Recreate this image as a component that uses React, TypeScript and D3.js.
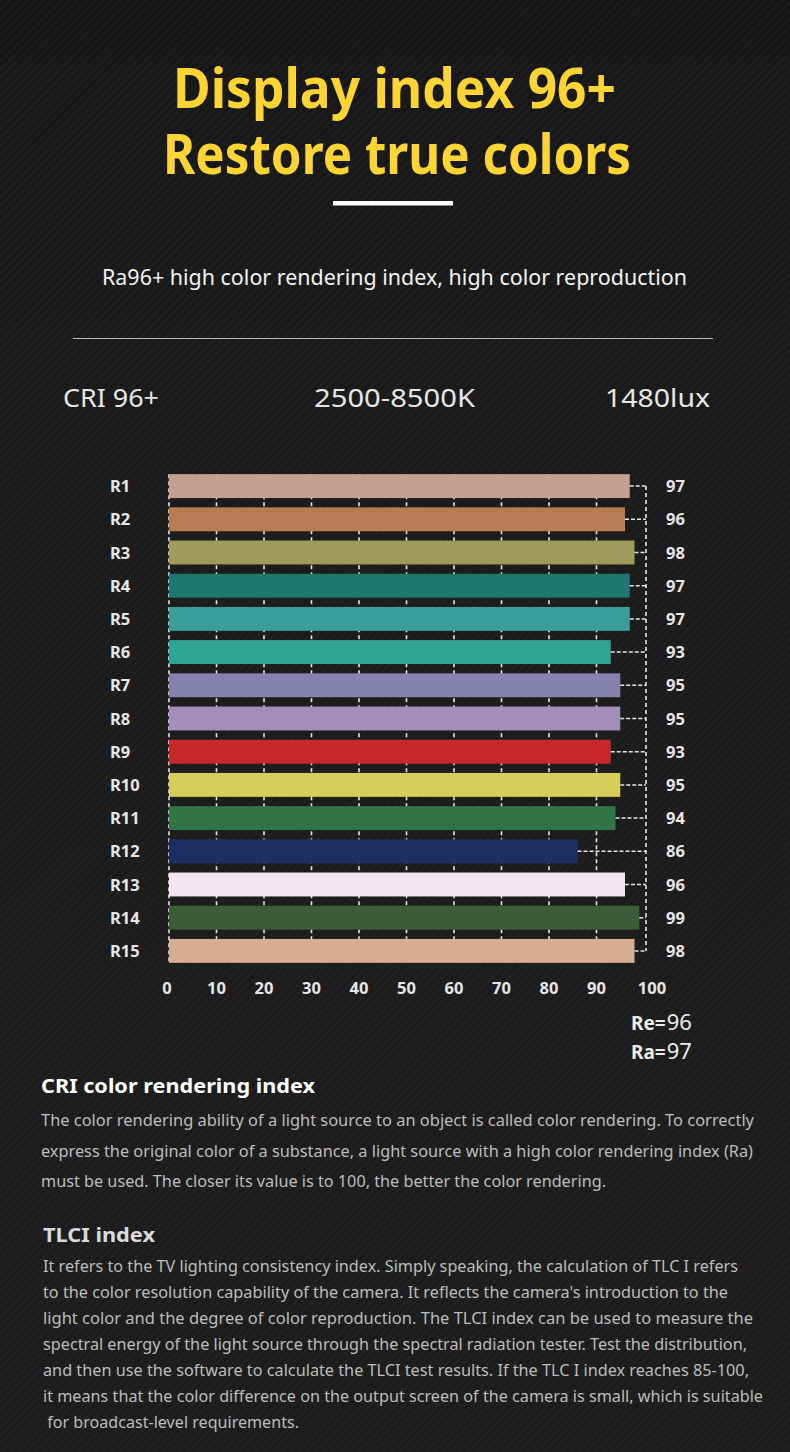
import React from 'react';
import * as d3 from 'd3';

const categories = ['R1', 'R2', 'R3', 'R4', 'R5', 'R6', 'R7', 'R8', 'R9', 'R10', 'R11', 'R12', 'R13', 'R14', 'R15'];
const values = [97, 96, 98, 97, 97, 93, 95, 95, 93, 95, 94, 86, 96, 99, 98];
const barColors = [
  '#c4a093', '#b87c55', '#a09a5c', '#1f7870', '#3a9d9a',
  '#30a492', '#8582ad', '#a48db8', '#c8282c', '#d6cd5a',
  '#317446', '#1f2e65', '#f2e5f0', '#3b5e38', '#d9ad92',
];
const xTicks = [0, 10, 20, 30, 40, 50, 60, 70, 80, 90, 100];
const gridTicks = [0, 10, 20, 30, 40, 50, 60, 70, 80, 90];

const titleLines = ['Display index 96+', 'Restore true colors'];
const subtitle = 'Ra96+ high color rendering index, high color reproduction';
const specs = ['CRI 96+', '2500-8500K', '1480lux'];
const summaryKeys = ['Re=', 'Ra='];
const summaryValues = ['96', '97'];

const criTitle = 'CRI color rendering index';
const criLines = [
  'The color rendering ability of a light source to an object is called color rendering. To correctly',
  'express the original color of a substance, a light source with a high color rendering index (Ra)',
  'must be used. The closer its value is to 100, the better the color rendering.',
];
const tlciTitle = 'TLCI index';
const tlciLines = [
  'It refers to the TV lighting consistency index. Simply speaking, the calculation of TLC I refers',
  "to the color resolution capability of the camera. It reflects the camera's introduction to the",
  'light color and the degree of color reproduction. The TLCI index can be used to measure the',
  'spectral energy of the light source through the spectral radiation tester. Test the distribution,',
  'and then use the software to calculate the TLCI test results. If the TLC I index reaches 85-100,',
  'it means that the color difference on the output screen of the camera is small, which is suitable',
  ' for broadcast-level requirements.',
];

const W = 790;
const H = 1452;
const font = '"Noto Sans", "Open Sans", sans-serif';

const App: React.FC = () => {
  const x = d3.scaleLinear().domain([0, 100]).range([169, 644]);
  const y = d3.scaleBand<string>()
    .domain(categories)
    .range([469.5, 967.5])
    .paddingInner(0.28)
    .paddingOuter(0.14);
  const bw = y.bandwidth();
  const connectorX = 646;
  const yTop = y(categories[0])!;
  const yBottom = y(categories[categories.length - 1])! + bw;

  const titleWidths = [443, 468];
  const titleX = [173, 163];
  const specX = [63, 314, 605];
  const specW = [96, 161, 105];
  const criW = [713, 712, 565];
  const tlciW = [695, 685, 710, 704, 706, 720, 256];

  return (
    <svg width={W} height={H} style={{ position: 'absolute', left: 0, top: 0 }}>
      <defs>
        <linearGradient id="bg" x1="0" y1="0" x2="0" y2="1">
          <stop offset="0" stopColor="#161616" />
          <stop offset="0.4" stopColor="#1b1b1b" />
          <stop offset="1" stopColor="#1c1c1c" />
        </linearGradient>
        <pattern id="stripes" width="6" height="6" patternUnits="userSpaceOnUse" patternTransform="rotate(-45)">
          <rect width="6" height="3" fill="#ffffff" opacity="0.018" />
        </pattern>
      </defs>
      <rect width={W} height={H} fill="url(#bg)" />
      <rect width={W} height={H} fill="url(#stripes)" />

      {/* header */}
      {titleLines.map((t, i) => (
        <text key={t} x={titleX[i]} y={108 + i * 66} fill="#fcd434" fontFamily={font} fontWeight="bold"
          fontSize={55} textLength={titleWidths[i]} lengthAdjust="spacingAndGlyphs">{t}</text>
      ))}
      <rect x={333} y={201} width={120} height={4.5} fill="#ffffff" />
      <text x={102} y={285} fill="#f2f2f2" fontFamily={font} fontSize={22} textLength={585}
        lengthAdjust="spacingAndGlyphs">{subtitle}</text>
      <line x1={73} x2={713} y1={338.5} y2={338.5} stroke="#bdbdbd" strokeWidth={1} />
      {specs.map((s, i) => (
        <text key={s} x={specX[i]} y={407} fill="#e6e6e6" fontFamily={font} fontSize={26}
          textLength={specW[i]} lengthAdjust="spacingAndGlyphs">{s}</text>
      ))}

      {/* gridlines behind bars */}
      {gridTicks.map(t => (
        <line key={t} x1={x(t)} x2={x(t)} y1={yTop} y2={yBottom} stroke="#e6e6e6"
          strokeWidth={1.6} strokeDasharray="4,3" />
      ))}

      {/* bars */}
      {categories.map((c, i) => (
        <g key={c}>
          <rect x={x(0)} y={y(c)} width={x(values[i]) - x(0)} height={bw} fill={barColors[i]} />
          <line x1={x(values[i])} x2={connectorX} y1={y(c)! + bw / 2} y2={y(c)! + bw / 2}
            stroke="#e6e6e6" strokeWidth={1.5} strokeDasharray="4,2" />
          <text x={110} y={y(c)! + bw / 2 + 6} fill="#e6e6e6" fontFamily={font} fontWeight="bold"
            fontSize={16.5}>{c}</text>
          <text x={666} y={y(c)! + bw / 2 + 6} fill="#e6e6e6" fontFamily={font} fontWeight="bold"
            fontSize={16.5}>{values[i]}</text>
        </g>
      ))}
      <line x1={connectorX} x2={connectorX} y1={y(categories[0])! + bw / 2}
        y2={y(categories[categories.length - 1])! + bw / 2} stroke="#e6e6e6" strokeWidth={1.6}
        strokeDasharray="4,3" />

      {/* x axis labels */}
      {xTicks.map(t => (
        <text key={t} x={x(t) + (t === 100 ? 8 : 0) - (t === 0 ? 2 : 0)} y={993.5} textAnchor="middle"
          fill="#e6e6e6" fontFamily={font} fontWeight="bold" fontSize={16.5}>{t}</text>
      ))}

      {/* Re / Ra */}
      {summaryKeys.map((k, i) => (
        <text key={k} x={631} y={1030 + i * 29} fill="#ececec" fontFamily={font}>
          <tspan fontWeight="bold" fontSize={19}>{k}</tspan>
          <tspan fontSize={22} dx={1}>{summaryValues[i]}</tspan>
        </text>
      ))}

      {/* description */}
      <text x={41} y={1093} fill="#ffffff" fontFamily={font} fontWeight="bold" fontSize={20}
        textLength={274} lengthAdjust="spacingAndGlyphs">{criTitle}</text>
      {criLines.map((l, i) => (
        <text key={i} x={41} y={1126 + i * 30.5} fill="#bdbdbd" fontFamily={font} fontSize={17}
          textLength={criW[i]} lengthAdjust="spacingAndGlyphs">{l}</text>
      ))}
      <text x={43} y={1242} fill="#dadada" fontFamily={font} fontWeight="bold" fontSize={20}
        textLength={112} lengthAdjust="spacingAndGlyphs">{tlciTitle}</text>
      {tlciLines.map((l, i) => (
        <text key={i} x={43} y={1272 + i * 26} fill="#bdbdbd" fontFamily={font} fontSize={17}
          textLength={tlciW[i]} lengthAdjust="spacingAndGlyphs" xmlSpace="preserve">{l}</text>
      ))}
    </svg>
  );
};

export default App;
